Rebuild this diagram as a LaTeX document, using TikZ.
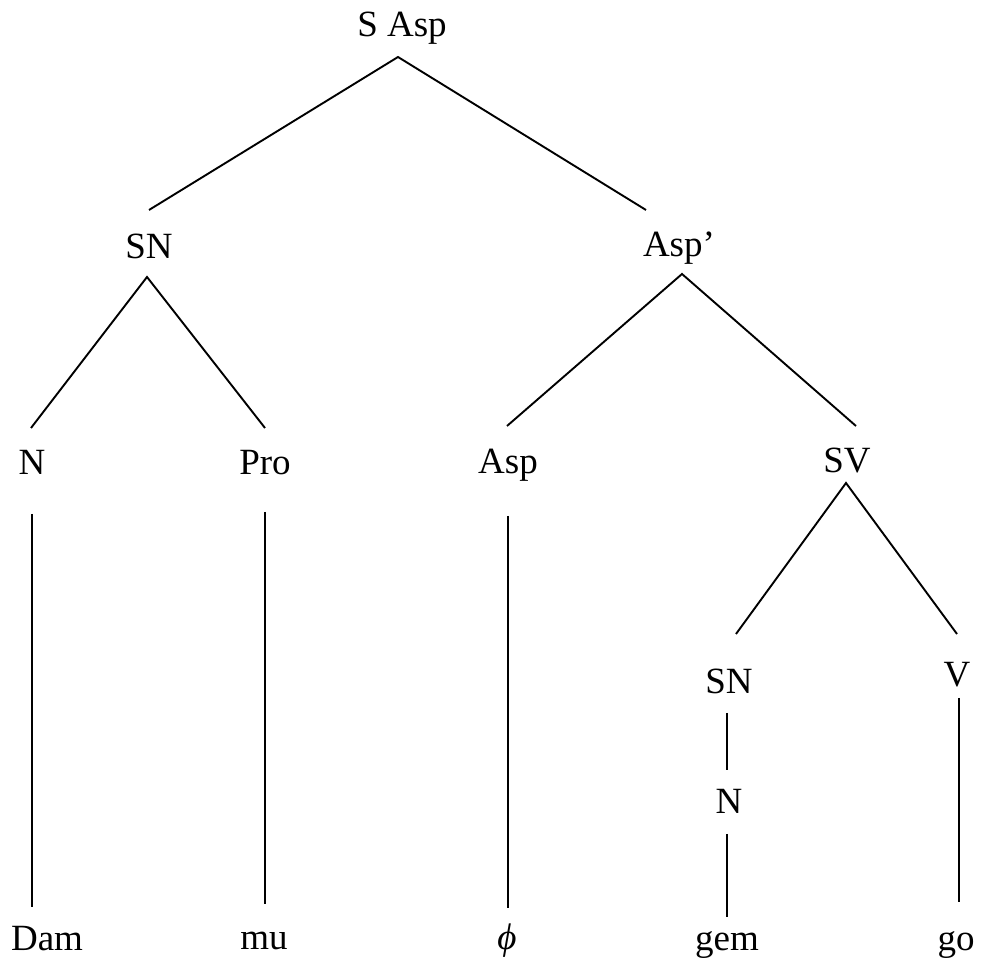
\documentclass[tikz,border=0pt]{standalone}
\usepackage{fontspec}
\setmainfont{Liberation Serif}
\usetikzlibrary{calc}

\begin{document}
\begin{tikzpicture}
[x=0.5pt,y=-0.5pt,
 lab/.style={anchor=base,inner sep=0pt,font=\fontsize{18.5}{22}\selectfont},
 branch/.style={line width=0.95pt},
 stem/.style={line width=0.55pt}]
\useasboundingbox (0,0) rectangle (981,961);
% labels
\node[lab](sasp) at (402,37){S Asp};
\node[lab](sn) at (149,259){SN};
\node[lab](asp1) at (679,257){Asp'};
\node[lab](n1) at (32,475){N};
\node[lab](pro) at (265,475){Pro};
\node[lab](asp) at (508,474){Asp};
\node[lab](sv) at (847,473){SV};
\node[lab](sn2) at (729,694){SN};
\node[lab](v) at (957,687){V};
\node[lab](n2) at (729,814){N};
\node[lab](dam) at (47,951){Dam};
\node[lab](mu) at (264,950){mu};
\node[lab](phi) at (507,950){\itshape ϕ};
\node[lab](gem) at (727,951){gem};
\node[lab](go) at (956,951){go};
% branches
\draw[branch] ($(sn.base)+(0,-49)$) -- ($(sasp.base)+(-4,20)$) -- ($(asp1.base)+(-33,-47)$);
\draw[branch] ($(n1.base)+(-1,-47)$) -- ($(sn.base)+(-2,18)$) -- ($(pro.base)+(0,-47)$);
\draw[branch] ($(asp.base)+(-1,-48)$) -- ($(asp1.base)+(3,17)$) -- ($(sv.base)+(9,-47)$);
\draw[branch] ($(sn2.base)+(7,-60)$) -- ($(sv.base)+(-1,10)$) -- ($(v.base)+(0,-53)$);
% stems
\draw[stem] ($(n1.base)+(0,39)$) -- ($(dam.base)+(-15,-44)$);
\draw[stem] ($(pro.base)+(0,37)$) -- ($(mu.base)+(1,-46)$);
\draw[stem] ($(asp.base)+(0,42)$) -- ($(phi.base)+(1,-42)$);
\draw[stem] ($(sn2.base)+(-2,19)$) -- ($(n2.base)+(-2,-44)$);
\draw[stem] ($(n2.base)+(-2,20)$) -- ($(gem.base)+(0,-34)$);
\draw[stem] ($(v.base)+(2,11)$) -- ($(go.base)+(3,-49)$);
\end{tikzpicture}
\end{document}
